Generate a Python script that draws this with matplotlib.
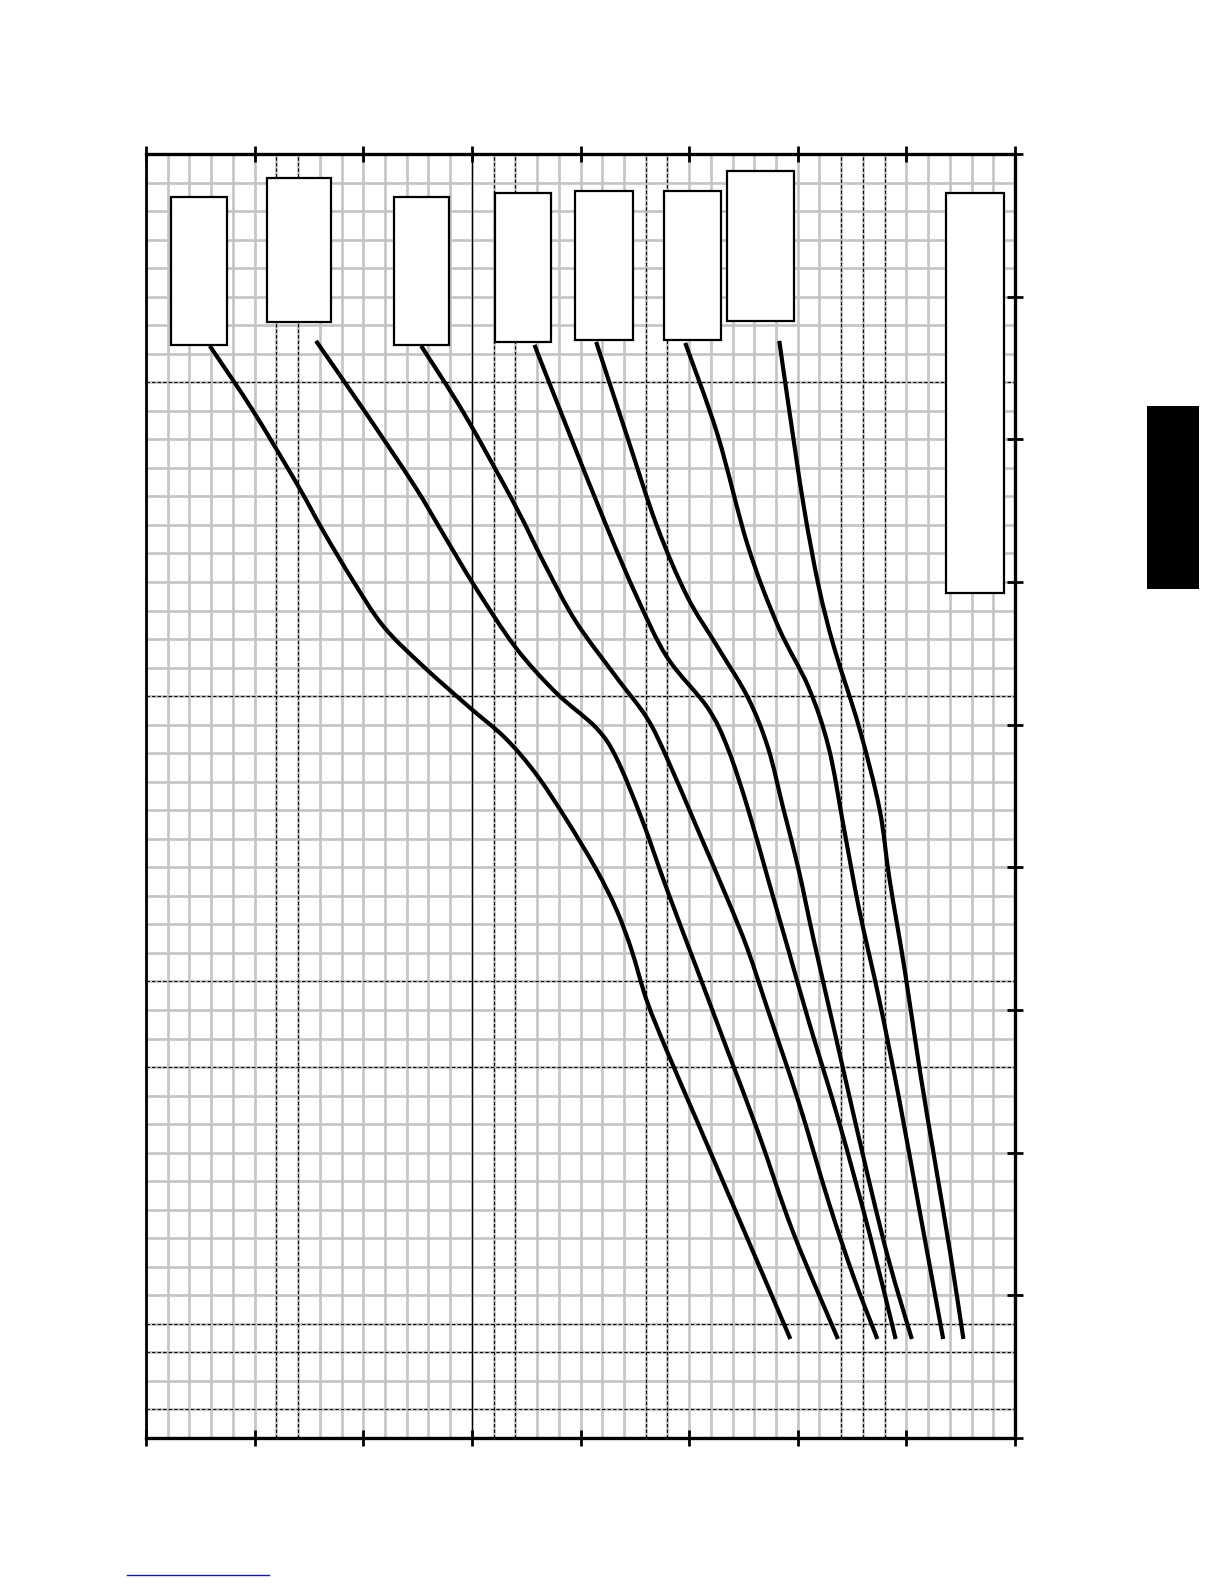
import numpy as np
import matplotlib.pyplot as plt
import matplotlib.patches as patches
from matplotlib.path import Path
from matplotlib.ticker import MultipleLocator

# Curves (x, y in chart units, x 0..8, y 0..9)
c1_x = [0.587, 0.978, 1.397, 1.630, 1.909, 2.189, 2.561, 2.980, 3.306, 3.586, 3.865, 4.144, 4.331, 4.470, 4.610, 4.796, 5.076, 5.355, 5.634, 5.932]
c1_y = [7.655, 7.209, 6.678, 6.359, 6.005, 5.686, 5.403, 5.120, 4.907, 4.659, 4.341, 3.987, 3.703, 3.420, 3.066, 2.712, 2.216, 1.721, 1.225, 0.694]

c2_x = [1.565, 2.002, 2.468, 2.747, 3.027, 3.399, 3.772, 4.144, 4.331, 4.563, 4.796, 5.076, 5.355, 5.634, 5.960, 6.370]
c2_y = [7.690, 7.209, 6.678, 6.323, 5.969, 5.545, 5.226, 4.978, 4.766, 4.341, 3.845, 3.279, 2.712, 2.146, 1.437, 0.694]

c3_x = [2.533, 2.934, 3.399, 3.679, 3.958, 4.331, 4.610, 4.796, 5.076, 5.355, 5.541, 5.727, 6.007, 6.286, 6.519, 6.733]
c3_y = [7.655, 7.173, 6.536, 6.111, 5.722, 5.332, 5.049, 4.766, 4.270, 3.774, 3.420, 2.995, 2.358, 1.650, 1.119, 0.694]

c4_x = [3.576, 3.865, 4.238, 4.517, 4.796, 5.169, 5.355, 5.541, 5.727, 5.914, 6.100, 6.380, 6.659, 6.901]
c4_y = [7.662, 7.102, 6.394, 5.899, 5.474, 5.120, 4.836, 4.412, 3.916, 3.420, 2.924, 2.216, 1.437, 0.694]

c5_x = [4.144, 4.424, 4.703, 4.982, 5.262, 5.541, 5.727, 5.867, 6.007, 6.147, 6.380, 6.659, 6.845, 7.050]
c5_y = [7.683, 7.032, 6.394, 5.899, 5.545, 5.190, 4.836, 4.412, 3.987, 3.491, 2.712, 1.792, 1.225, 0.694]

c6_x = [4.964, 5.262, 5.541, 5.821, 6.100, 6.286, 6.426, 6.566, 6.752, 6.938, 7.125, 7.339]
c6_y = [7.676, 7.032, 6.253, 5.686, 5.261, 4.836, 4.270, 3.703, 3.066, 2.358, 1.579, 0.694]

c7_x = [5.830, 5.914, 6.054, 6.193, 6.333, 6.566, 6.752, 6.845, 6.985, 7.125, 7.264, 7.404, 7.525]
c7_y = [7.690, 7.244, 6.536, 5.969, 5.545, 4.978, 4.412, 3.916, 3.279, 2.570, 1.933, 1.296, 0.694]

curves = [(c1_x, c1_y), (c2_x, c2_y), (c3_x, c3_y), (c4_x, c4_y),
          (c5_x, c5_y), (c6_x, c6_y), (c7_x, c7_y)]

# Label boxes (text removed in the source)
box_x0 = [0.233, 1.118, 2.282, 3.213, 3.949, 4.769, 5.347, 7.367]
box_x1 = [0.745, 1.704, 2.794, 3.725, 4.480, 5.290, 5.961, 7.898]
box_y0 = [7.662, 7.825, 7.662, 7.683, 7.697, 7.697, 7.832, 5.920]
box_y1 = [8.696, 8.830, 8.696, 8.724, 8.738, 8.738, 8.880, 8.724]

# dashed reference lines
dash_x = [1.2, 1.4, 3.2, 3.4, 4.6, 4.8, 6.4, 6.6, 6.8]
dash_y = [7.4, 5.2, 3.2, 2.6, 0.8, 0.6, 0.2]


def smooth_path(xs, ys):
    # Catmull-Rom through the read points, drawn as cubic bezier segments
    p = np.column_stack([xs, ys])
    verts = [p[0]]
    codes = [Path.MOVETO]
    for i in range(len(p) - 1):
        p0 = p[i - 1] if i > 0 else p[i]
        p3 = p[i + 2] if i + 2 < len(p) else p[i + 1]
        verts += [p[i] + (p[i + 1] - p0) / 6, p[i + 1] - (p3 - p[i]) / 6, p[i + 1]]
        codes += [Path.CURVE4] * 3
    return Path(verts, codes)


fig = plt.figure(figsize=(12.24, 15.84), dpi=100)
ax = fig.add_axes([146 / 1224, 1 - 1438 / 1584, 869 / 1224, 1284 / 1584])

ax.set_xlim(0, 8)
ax.set_ylim(0, 9)
ax.xaxis.set_major_locator(MultipleLocator(1))
ax.yaxis.set_major_locator(MultipleLocator(1))
ax.xaxis.set_minor_locator(MultipleLocator(0.2))
ax.yaxis.set_minor_locator(MultipleLocator(0.2))

ax.grid(which='both', color='#c4c4c4', linewidth=1.9, zorder=0)
ax.set_axisbelow(True)

ax.vlines(dash_x, 0, 9, colors='black', linewidth=0.8, linestyles=(0, (3, 2)), zorder=1)
ax.hlines(dash_y, 0, 8, colors='black', linewidth=0.8, linestyles=(0, (3, 2)), zorder=1)
ax.axvline(3, color='black', linewidth=0.9, zorder=1)

for x0, x1, y0, y1 in zip(box_x0, box_x1, box_y0, box_y1):
    ax.add_patch(patches.Rectangle((x0, y0), x1 - x0, y1 - y0, facecolor='white',
                                   edgecolor='black', linewidth=1.6, zorder=3))

for cx, cy in curves:
    ax.add_patch(patches.PathPatch(smooth_path(cx, cy), facecolor='none', edgecolor='black',
                                   linewidth=3.0, capstyle='butt', zorder=4))

for side in ['top', 'bottom', 'right']:
    ax.spines[side].set_linewidth(2.4)
ax.spines['left'].set_linewidth(2.0)

ax.tick_params(which='major', direction='inout', length=11, width=2,
               top=True, bottom=True, right=True, left=False,
               labelbottom=False, labelleft=False)
ax.tick_params(which='minor', length=0)

# black tab at the right edge and blue rule at the bottom
fig.patches.append(patches.Rectangle((1147 / 1224, 1 - 589 / 1584), 52 / 1224, 183 / 1584,
                                     transform=fig.transFigure, facecolor='black',
                                     edgecolor='none'))
fig.add_artist(plt.Line2D([127 / 1224, 269 / 1224], [1 - 1575 / 1584, 1 - 1575 / 1584],
                          transform=fig.transFigure, color='#1a1a8c', linewidth=1.0))

fig.savefig('out.png', dpi=100)
